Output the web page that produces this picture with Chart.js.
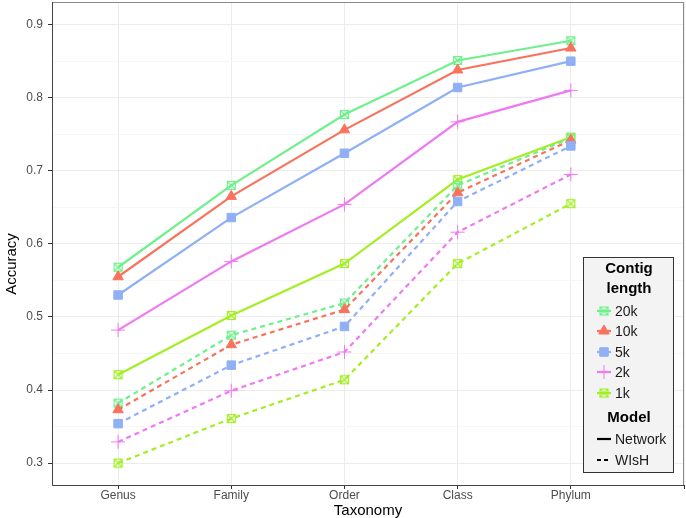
<!DOCTYPE html>
<html><head><meta charset="utf-8">
<script src="https://cdn.jsdelivr.net/npm/chart.js@4/dist/chart.umd.min.js"></script>
<style>html,body{margin:0;padding:0;background:#fff}</style>
</head><body>
<canvas id="c" width="686" height="518"></canvas>
<script>
const categories = ['Genus', 'Family', 'Order', 'Class', 'Phylum'];
const lengths = ['20k', '10k', '5k', '2k', '1k'];
const models = ['Network', 'WIsH'];
const yMajorTicks = [0.3, 0.4, 0.5, 0.6, 0.7, 0.8, 0.9];

const network20k = [0.568, 0.680, 0.777, 0.851, 0.878];
const network10k = [0.555, 0.665, 0.756, 0.838, 0.868];
const network5k  = [0.530, 0.636, 0.724, 0.814, 0.850];
const network2k  = [0.482, 0.576, 0.654, 0.767, 0.810];
const network1k  = [0.421, 0.502, 0.573, 0.688, 0.746];

const wish20k = [0.382, 0.475, 0.519, 0.680, 0.745];
const wish10k = [0.373, 0.462, 0.510, 0.670, 0.742];
const wish5k  = [0.354, 0.434, 0.487, 0.658, 0.734];
const wish2k  = [0.329, 0.399, 0.452, 0.616, 0.695];
const wish1k  = [0.300, 0.361, 0.414, 0.573, 0.655];

const colors = {'20k': '#6ff08c', '10k': '#f8735d', '5k': '#8fb0f4', '2k': '#ef78f3', '1k': '#a3ef25'};
const FONT = '"Liberation Sans", Arial, sans-serif';

function boxX(color) {
  const c = document.createElement('canvas');
  c.width = 11; c.height = 11;
  const g = c.getContext('2d');
  g.strokeStyle = color; g.lineWidth = 1.2;
  g.strokeRect(1.5, 1.5, 8, 8);
  g.beginPath();
  g.moveTo(1.5, 1.5); g.lineTo(9.5, 9.5);
  g.moveTo(9.5, 1.5); g.lineTo(1.5, 9.5);
  g.stroke();
  return c;
}
function markerFor(len) {
  const col = colors[len];
  switch (len) {
    case '20k': return {pointStyle: boxX(col), radius: 5, borderWidth: 1};
    case '10k': return {pointStyle: 'triangle', radius: 6, borderWidth: 1};
    case '5k': return {pointStyle: 'rect', radius: 6, borderWidth: 1};
    case '2k': return {pointStyle: 'cross', radius: 7, borderWidth: 1};
    case '1k': return {pointStyle: boxX(col), radius: 5, borderWidth: 1};
  }
}

const seriesTable = {
  Network: {'20k': network20k, '10k': network10k, '5k': network5k, '2k': network2k, '1k': network1k},
  WIsH: {'20k': wish20k, '10k': wish10k, '5k': wish5k, '2k': wish2k, '1k': wish1k}
};

const datasets = [];
models.slice().reverse().forEach(model => {
  lengths.slice().reverse().forEach(len => {
    const m = markerFor(len);
    datasets.push({
      label: model + ' ' + len,
      data: seriesTable[model][len].map((v, i) => ({x: i + 1, y: v})),
      borderColor: colors[len],
      backgroundColor: colors[len],
      borderWidth: 2.2,
      borderDash: model === 'WIsH' ? [5, 4] : [],
      pointStyle: m.pointStyle,
      pointRadius: m.radius,
      pointBorderWidth: m.borderWidth,
      pointBackgroundColor: colors[len],
      pointBorderColor: colors[len],
      tension: 0
    });
  });
});

const yAllTicks = [];
yMajorTicks.forEach((v, i) => {
  yAllTicks.push(v);
  if (i < yMajorTicks.length - 1) yAllTicks.push(+(v + 0.05).toFixed(2));
});
const isMajor = v => yMajorTicks.some(m => Math.abs(m - v) < 1e-6);

const frame = {
  id: 'frame',
  afterDatasetsDraw(chart) {
    const a = chart.chartArea, ctx = chart.ctx;
    ctx.save();
    ctx.strokeStyle = '#8a8a8a'; ctx.lineWidth = 1;
    ctx.strokeRect(a.left + 0.5, a.top + 0.5, a.right - a.left - 1, a.bottom - a.top);
    ctx.strokeStyle = '#454545';
    ctx.beginPath();
    ctx.moveTo(a.left + 0.5, a.top); ctx.lineTo(a.left + 0.5, a.bottom + 0.5); ctx.lineTo(a.right, a.bottom + 0.5);
    ctx.stroke();
    ctx.restore();
  },
  afterDraw(chart) {
    const ctx = chart.ctx;
    ctx.save();
    ctx.translate(12, 264);
    ctx.rotate(-Math.PI / 2);
    ctx.fillStyle = '#000';
    ctx.font = '15px ' + FONT;
    ctx.textAlign = 'center'; ctx.textBaseline = 'middle';
    ctx.fillText('Accuracy', 0, 0);
    ctx.restore();
  }
};

const legendPlugin = {
  id: 'ggLegend',
  afterDraw(chart) {
    const ctx = chart.ctx;
    const L = 583, T = 257, R = 674, B = 473;
    ctx.save();
    ctx.fillStyle = '#f3f3f3';
    ctx.fillRect(L, T, R - L, B - T);
    ctx.strokeStyle = '#333'; ctx.lineWidth = 1;
    ctx.strokeRect(L + 0.5, T + 0.5, R - L - 1, B - T - 1);
    ctx.fillStyle = '#000';
    ctx.textAlign = 'center'; ctx.textBaseline = 'middle';
    ctx.font = 'bold 15px ' + FONT;
    ctx.fillText('Contig', 629, 269);
    ctx.fillText('length', 629, 289);
    const rows = [311, 331, 352, 372, 393];
    lengths.forEach((len, i) => {
      const y = rows[i];
      const m = markerFor(len);
      ctx.strokeStyle = colors[len]; ctx.lineWidth = 2.2; ctx.setLineDash([]);
      ctx.beginPath(); ctx.moveTo(597, y); ctx.lineTo(611, y); ctx.stroke();
      ctx.lineWidth = m.borderWidth;
      ctx.fillStyle = colors[len];
      Chart.helpers.drawPoint(ctx, {pointStyle: m.pointStyle, radius: m.radius, rotation: 0, borderWidth: m.borderWidth}, 604, y);
      ctx.fillStyle = '#1a1a1a';
      ctx.textAlign = 'left';
      ctx.font = '14px ' + FONT;
      ctx.fillText(len, 615, y + 1);
    });
    ctx.textAlign = 'center';
    ctx.font = 'bold 15px ' + FONT;
    ctx.fillStyle = '#000';
    ctx.fillText('Model', 629, 418);
    const mrows = [439, 460];
    models.forEach((model, i) => {
      const y = mrows[i];
      ctx.strokeStyle = '#000'; ctx.lineWidth = 2.2;
      ctx.setLineDash(model === 'WIsH' ? [4, 3] : []);
      ctx.beginPath(); ctx.moveTo(597, y); ctx.lineTo(611, y); ctx.stroke();
      ctx.setLineDash([]);
      ctx.fillStyle = '#1a1a1a';
      ctx.textAlign = 'left';
      ctx.font = '14px ' + FONT;
      ctx.fillText(model, 615, y + 1);
    });
    ctx.restore();
  }
};

new Chart(document.getElementById('c'), {
  type: 'line',
  data: {datasets},
  plugins: [frame, legendPlugin],
  options: {
    responsive: false,
    animation: false,
    layout: {autoPadding: false, padding: {top: 2, right: 2, left: 0, bottom: 0}},
    plugins: {legend: {display: false}, tooltip: {enabled: false}},
    scales: {
      x: {
        type: 'linear', min: 0.416, max: 6.0,
        afterBuildTicks: s => { s.ticks = [1, 2, 3, 4, 5, 6].map(v => ({value: v})); },
        afterFit: s => { s.height = 33; s.paddingLeft = 0; s.paddingRight = 0; },
        ticks: {
          padding: -1, autoSkip: false, maxRotation: 0,
          color: '#4d4d4d', font: {family: FONT, size: 12},
          callback: v => categories[v - 1] || ''
        },
        grid: {color: '#ececec', lineWidth: 1, tickLength: 4, tickColor: '#333'},
        border: {display: false},
        title: {display: true, text: 'Taxonomy', color: '#000', font: {family: FONT, size: 15}, padding: {top: 0, bottom: -2}}
      },
      y: {
        type: 'linear', min: 0.27, max: 0.931,
        afterBuildTicks: s => { s.ticks = yAllTicks.map(v => ({value: v})); },
        afterFit: s => { s.width = 52; s.paddingTop = 0; s.paddingBottom = 0; },
        ticks: {
          padding: 5, autoSkip: false,
          color: '#4d4d4d', font: {family: FONT, size: 12},
          callback: v => isMajor(v) ? v.toFixed(1) : ''
        },
        grid: {
          color: c => isMajor(c.tick.value) ? '#ececec' : '#f6f6f6',
          tickLength: 4,
          tickColor: c => isMajor(c.tick.value) ? '#333' : 'rgba(0,0,0,0)'
        },
        border: {display: false},
        title: {display: false}
      }
    }
  }
});
</script>
</body></html>
